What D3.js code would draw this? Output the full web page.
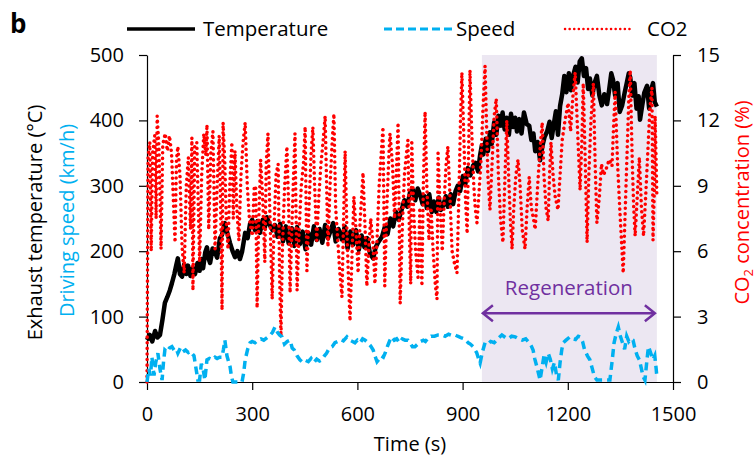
<!DOCTYPE html>
<html>
<head>
<meta charset="utf-8">
<script src="https://cdn.jsdelivr.net/npm/d3@7"></script>
<style>
  body { margin: 0; background: #fff; }
  svg text { font-family: "Open Sans", sans-serif; }
</style>
</head>
<body>
<div id="chart"></div>
<script>
// Exhaust temperature, driving speed and CO2 over a drive cycle

const width = 756;
const height = 459;
const margin = { top: 55, right: 83, bottom: 77, left: 147 };

const xTicks = [0, 300, 600, 900, 1200, 1500];
const leftTicks = [0, 100, 200, 300, 400, 500];
const rightTicks = [0, 3, 6, 9, 12, 15];
const regeneration = [955, 1454];

const tempTime = [0, 8, 15, 23, 30, 37, 44, 51, 58, 65, 71, 78, 84, 88, 94, 100, 106, 112, 117, 124, 130, 137, 144, 150, 155, 160, 166, 171, 176, 180, 187, 194, 200, 208, 214, 222, 228, 237, 244, 251, 258, 265, 271, 276, 280, 287, 294, 300, 308, 315, 322, 330, 336, 342, 350, 358, 365, 372, 380, 388, 396, 404, 413, 420, 428, 436, 444, 452, 460, 468, 476, 484, 492, 500, 508, 516, 524, 531, 538, 546, 556, 564, 572, 580, 588, 596, 604, 612, 620, 628, 636, 645, 652, 660, 670, 678, 686, 694, 702, 710, 718, 727, 734, 742, 750, 758, 765, 772, 779, 786, 792, 798, 805, 812, 818, 825, 832, 838, 845, 852, 858, 866, 873, 880, 886, 893, 901, 908, 915, 922, 930, 937, 944, 950, 955, 959, 966, 972, 978, 983, 990, 996, 1002, 1008, 1014, 1020, 1026, 1032, 1038, 1044, 1050, 1055, 1062, 1068, 1075, 1083, 1090, 1096, 1102, 1107, 1114, 1121, 1128, 1134, 1141, 1148, 1154, 1160, 1166, 1172, 1178, 1184, 1190, 1196, 1203, 1209, 1215, 1222, 1228, 1234, 1240, 1246, 1252, 1258, 1263, 1270, 1276, 1283, 1290, 1297, 1304, 1312, 1318, 1324, 1329, 1335, 1342, 1348, 1355, 1362, 1368, 1374, 1378, 1384, 1390, 1396, 1402, 1406, 1412, 1418, 1426, 1432, 1438, 1443, 1448, 1454];
const tempValues = [64, 72, 62, 78, 68, 72, 95, 121, 130, 140, 151, 165, 180, 189, 165, 161, 180, 165, 178, 162, 174, 165, 182, 170, 188, 174, 198, 206, 188, 182, 204, 198, 190, 220, 225, 243, 230, 212, 200, 191, 200, 188, 199, 215, 228, 220, 242, 248, 232, 246, 228, 248, 236, 252, 240, 232, 240, 222, 242, 215, 238, 212, 235, 208, 237, 211, 230, 203, 228, 210, 238, 217, 234, 213, 240, 220, 232, 243, 215, 234, 218, 238, 204, 230, 210, 232, 202, 224, 206, 220, 196, 189, 206, 214, 222, 237, 226, 250, 238, 260, 248, 265, 278, 268, 290, 294, 278, 296, 286, 272, 284, 266, 287, 260, 276, 260, 282, 263, 270, 284, 268, 287, 272, 292, 300, 292, 315, 303, 327, 316, 331, 335, 322, 347, 362, 348, 372, 353, 382, 364, 397, 378, 407, 392, 412, 386, 404, 378, 410, 390, 404, 383, 402, 380, 412, 394, 392, 370, 380, 353, 367, 339, 362, 375, 383, 398, 373, 394, 414, 378, 422, 440, 468, 443, 472, 446, 468, 482, 458, 490, 495, 468, 480, 448, 464, 438, 457, 468, 438, 423, 440, 425, 447, 472, 462, 438, 457, 413, 423, 442, 457, 472, 466, 438, 457, 418, 437, 401, 422, 442, 453, 418, 447, 457, 428, 421];

const speedTime = [0, 5, 10, 14, 20, 25, 31, 37, 43, 47, 51, 58, 64, 71, 78, 84, 88, 95, 102, 110, 118, 124, 128, 134, 140, 145, 150, 155, 160, 165, 171, 178, 186, 194, 200, 207, 214, 218, 222, 228, 237, 241, 245, 258, 271, 276, 280, 287, 294, 300, 308, 317, 325, 333, 345, 352, 358, 365, 372, 378, 385, 392, 400, 408, 414, 420, 428, 436, 444, 452, 460, 468, 476, 484, 492, 499, 506, 512, 520, 528, 536, 544, 552, 560, 570, 578, 586, 593, 600, 608, 615, 622, 630, 638, 645, 650, 656, 662, 668, 674, 679, 686, 692, 698, 705, 712, 720, 728, 736, 744, 750, 757, 764, 772, 780, 788, 794, 801, 810, 820, 830, 841, 850, 860, 870, 878, 886, 895, 905, 916, 922, 930, 940, 946, 950, 956, 964, 972, 980, 990, 1000, 1012, 1022, 1030, 1040, 1050, 1060, 1070, 1080, 1090, 1096, 1101, 1106, 1112, 1116, 1121, 1126, 1132, 1138, 1144, 1150, 1156, 1162, 1168, 1173, 1178, 1183, 1187, 1195, 1206, 1214, 1222, 1230, 1235, 1242, 1248, 1256, 1263, 1270, 1276, 1283, 1300, 1320, 1326, 1332, 1338, 1344, 1350, 1356, 1362, 1368, 1374, 1380, 1386, 1392, 1398, 1404, 1410, 1415, 1420, 1426, 1430, 1436, 1443, 1448, 1452, 1454];
const speedValues = [0, 20, 10, 38, 10, 30, 44, 20, 3, 30, 49, 46, 52, 54, 48, 50, 44, 52, 46, 49, 45, 47, 44, 40, 20, 3, 3, 28, 20, 3, 34, 36, 34, 38, 36, 38, 38, 50, 64, 40, 23, 8, 0, 0, 0, 15, 34, 50, 60, 62, 60, 64, 66, 64, 69, 72, 76, 84, 76, 72, 69, 58, 62, 64, 52, 49, 40, 34, 30, 33, 31, 36, 30, 35, 32, 34, 40, 44, 52, 54, 60, 62, 65, 63, 69, 64, 62, 60, 64, 60, 66, 64, 60, 55, 49, 40, 31, 35, 40, 38, 44, 55, 63, 69, 64, 66, 60, 66, 64, 64, 60, 54, 54, 58, 62, 64, 62, 67, 70, 70, 72, 72, 70, 73, 71, 72, 70, 68, 66, 60, 58, 54, 45, 35, 29, 45, 60, 58, 62, 60, 66, 72, 68, 66, 70, 69, 66, 64, 66, 60, 55, 49, 35, 23, 14, 3, 20, 40, 30, 44, 35, 20, 30, 10, 3, 30, 50, 60, 64, 69, 66, 65, 70, 69, 62, 49, 40, 34, 20, 8, 3, 3, 3, 30, 60, 74, 84, 70, 60, 50, 70, 62, 66, 64, 50, 40, 34, 20, 8, 3, 35, 54, 45, 34, 40, 20, 8];

const co2Time = [0, 3, 8, 12, 16, 22, 26, 29, 34, 40, 45, 52, 58, 64, 70, 76, 80, 84, 88, 94, 100, 106, 112, 118, 124, 128, 131, 136, 142, 150, 156, 162, 168, 171, 176, 182, 188, 194, 200, 206, 210, 214, 217, 222, 226, 231, 236, 242, 246, 251, 256, 262, 268, 274, 280, 286, 292, 300, 306, 310, 314, 318, 324, 330, 336, 340, 345, 350, 357, 362, 368, 374, 378, 382, 386, 392, 399, 404, 408, 414, 418, 422, 428, 434, 440, 446, 451, 456, 462, 468, 473, 478, 484, 490, 496, 502, 508, 516, 522, 528, 533, 538, 544, 550, 556, 562, 565, 570, 575, 579, 584, 590, 596, 602, 608, 612, 616, 622, 627, 632, 638, 644, 650, 656, 662, 668, 673, 678, 684, 690, 693, 700, 706, 712, 716, 722, 728, 734, 740, 744, 748, 752, 755, 760, 766, 773, 778, 784, 788, 793, 798, 804, 810, 816, 822, 827, 830, 836, 842, 848, 853, 858, 864, 870, 876, 884, 890, 894, 898, 904, 908, 913, 917, 921, 926, 932, 936, 941, 946, 952, 958, 964, 968, 972, 978, 984, 990, 996, 1002, 1008, 1015, 1020, 1026, 1030, 1036, 1041, 1046, 1052, 1058, 1064, 1070, 1078, 1084, 1090, 1096, 1102, 1107, 1114, 1120, 1127, 1132, 1138, 1144, 1148, 1152, 1158, 1164, 1172, 1178, 1184, 1192, 1201, 1208, 1214, 1221, 1228, 1235, 1240, 1244, 1250, 1255, 1260, 1266, 1273, 1278, 1283, 1290, 1296, 1302, 1310, 1318, 1326, 1330, 1335, 1342, 1348, 1353, 1358, 1364, 1370, 1374, 1378, 1384, 1388, 1392, 1398, 1404, 1410, 1416, 1422, 1428, 1434, 1440, 1443, 1447, 1449, 1452, 1454];
const co2Values = [0, 10.3, 11.0, 6.0, 10.5, 11.3, 7.5, 12.2, 10.8, 6.1, 10.9, 11.4, 10.6, 11.3, 10.5, 8.0, 6.4, 10.2, 10.8, 9.5, 6.2, 5.0, 9.0, 10.3, 7.0, 11.2, 4.2, 10.8, 11.0, 5.5, 9.5, 11.4, 10.4, 11.8, 7.0, 10.5, 11.5, 6.1, 9.0, 11.3, 8.0, 3.3, 11.9, 10.0, 7.5, 6.1, 9.0, 11.0, 7.5, 10.6, 8.0, 6.5, 9.5, 11.0, 11.9, 9.0, 7.5, 6.7, 9.0, 8.9, 3.4, 7.0, 10.2, 8.4, 5.5, 10.0, 11.4, 8.0, 3.8, 7.0, 9.5, 10.0, 5.0, 2.1, 6.0, 8.8, 10.8, 8.0, 4.1, 7.5, 9.5, 11.4, 4.2, 7.0, 9.0, 10.0, 11.7, 5.1, 8.0, 10.5, 11.7, 9.0, 6.5, 8.5, 10.0, 11.0, 12.2, 6.2, 9.0, 11.0, 12.3, 8.0, 6.5, 5.0, 3.9, 8.5, 10.6, 7.0, 4.5, 2.8, 5.5, 8.5, 7.0, 5.0, 7.5, 8.5, 9.6, 7.0, 4.4, 6.0, 7.5, 6.5, 4.5, 6.5, 9.0, 10.5, 11.7, 4.4, 8.0, 10.5, 11.4, 10.0, 7.5, 10.0, 11.9, 3.6, 7.0, 9.5, 10.5, 11.1, 7.0, 4.5, 11.1, 8.0, 6.0, 4.8, 8.0, 4.4, 9.0, 12.4, 9.0, 6.5, 8.0, 6.0, 4.5, 3.8, 10.5, 8.0, 6.0, 8.5, 10.0, 10.8, 8.5, 6.0, 5.5, 5.0, 9.0, 12.0, 14.2, 11.0, 8.5, 6.8, 10.5, 14.3, 11.5, 9.0, 8.0, 7.3, 8.5, 10.0, 12.5, 14.5, 12.0, 9.5, 7.9, 10.0, 12.2, 13.0, 9.5, 7.5, 6.4, 9.0, 12.0, 10.0, 7.5, 6.1, 8.0, 9.5, 10.2, 9.0, 7.0, 6.1, 8.0, 9.4, 8.0, 7.5, 7.0, 9.0, 10.5, 11.9, 9.5, 8.0, 7.4, 9.5, 11.0, 9.5, 8.5, 7.9, 9.5, 11.1, 12.0, 12.8, 11.5, 13.0, 14.2, 11.5, 8.8, 11.0, 13.7, 10.0, 6.4, 9.5, 12.0, 13.7, 10.0, 7.3, 8.5, 10.0, 9.5, 9.8, 10.2, 9.9, 11.5, 13.3, 10.0, 8.0, 6.5, 5.0, 8.0, 11.0, 13.0, 14.3, 10.0, 8.0, 6.7, 8.5, 10.3, 8.0, 6.7, 8.5, 10.5, 12.5, 13.5, 6.5, 9.0, 12.2, 10.0, 8.5];

const legendItems = ["Temperature", "Speed", "CO2"];

const svg = d3.select("#chart")
    .append("svg")
    .attr("width", width)
    .attr("height", height);

const x = d3.scaleLinear().domain([0, 1500]).range([margin.left, width - margin.right]);
const yLeft = d3.scaleLinear().domain([0, 500]).range([height - margin.bottom, margin.top]);
const yRight = d3.scaleLinear().domain([0, 15]).range([height - margin.bottom, margin.top]);

// regeneration band
svg.append("rect")
    .attr("x", x(regeneration[0]))
    .attr("y", yLeft(500))
    .attr("width", x(regeneration[1]) - x(regeneration[0]))
    .attr("height", yLeft(0) - yLeft(500))
    .attr("fill", "#ECE7F2");

// axes
const xAxis = svg.append("g")
    .attr("transform", `translate(0,${yLeft(0)})`)
    .call(d3.axisBottom(x).tickValues(xTicks).tickFormat(d3.format("d"))
        .tickSize(8).tickSizeOuter(0).tickPadding(17));

const leftAxis = svg.append("g")
    .attr("transform", `translate(${x(0)},0)`)
    .call(d3.axisLeft(yLeft).tickValues(leftTicks).tickSize(8).tickSizeOuter(0).tickPadding(15));

const rightAxis = svg.append("g")
    .attr("transform", `translate(${x(1500)},0)`)
    .call(d3.axisRight(yRight).tickValues(rightTicks).tickSize(8).tickSizeOuter(0).tickPadding(16));

[xAxis, leftAxis, rightAxis].forEach(g => {
    g.select(".domain").attr("stroke", "#000").attr("stroke-width", 1.2);
    g.selectAll(".tick line").attr("stroke", "#000").attr("stroke-width", 1.2);
    g.selectAll(".tick text").style("font-size", "20px").attr("fill", "#000");
});

// series
const tempData = tempTime.map((t, i) => [t, tempValues[i]]);
const speedData = speedTime.map((t, i) => [t, speedValues[i]]);
const co2Data = co2Time.map((t, i) => [t, co2Values[i]]);

const leftLine = d3.line().x(d => x(d[0])).y(d => yLeft(d[1]));
const rightLine = d3.line().x(d => x(d[0])).y(d => yRight(d[1]));

svg.append("path")
    .datum(tempData)
    .attr("d", leftLine)
    .attr("fill", "none")
    .attr("stroke", "#000")
    .attr("stroke-width", 4.5)
    .attr("stroke-linejoin", "round");

svg.append("path")
    .datum(co2Data)
    .attr("d", rightLine)
    .attr("fill", "none")
    .attr("stroke", "#FF0000")
    .attr("stroke-width", 3.5)
    .attr("stroke-linecap", "round")
    .attr("stroke-dasharray", "0.1 5.5");

svg.append("path")
    .datum(speedData)
    .attr("d", leftLine)
    .attr("fill", "none")
    .attr("stroke", "#00B0F0")
    .attr("stroke-width", 3.5)
    .attr("stroke-dasharray", "8 5");

// regeneration arrow
const purple = "#7030A0";
const arrowY = yLeft(105);
const ax0 = x(regeneration[0]) + 1;
const ax1 = x(regeneration[1]) - 2;
svg.append("line")
    .attr("x1", ax0).attr("x2", ax1)
    .attr("y1", arrowY).attr("y2", arrowY)
    .attr("stroke", purple).attr("stroke-width", 2.5);
svg.append("path")
    .attr("d", `M${ax0 + 10},${arrowY - 8} L${ax0},${arrowY} L${ax0 + 10},${arrowY + 8}`
        + ` M${ax1 - 10},${arrowY - 8} L${ax1},${arrowY} L${ax1 - 10},${arrowY + 8}`)
    .attr("fill", "none")
    .attr("stroke", purple)
    .attr("stroke-width", 2.5);
svg.append("text")
    .attr("x", (ax0 + ax1) / 2)
    .attr("y", arrowY - 18)
    .attr("text-anchor", "middle")
    .style("font-size", "20.5px")
    .attr("fill", purple)
    .text("Regeneration");

// axis titles
svg.append("text")
    .attr("transform", `translate(42,${(yLeft(0) + yLeft(500)) / 2 + 4}) rotate(-90)`)
    .attr("text-anchor", "middle")
    .style("font-size", "20px")
    .attr("fill", "#000")
    .text("Exhaust temperature (°C)");

svg.append("text")
    .attr("transform", `translate(74,${(yLeft(0) + yLeft(500)) / 2 + 2}) rotate(-90)`)
    .attr("text-anchor", "middle")
    .style("font-size", "20px")
    .attr("fill", "#00B0F0")
    .text("Driving speed (km/h)");

const co2Title = svg.append("text")
    .attr("transform", `translate(749,${(yLeft(0) + yLeft(500)) / 2 - 16}) rotate(-90)`)
    .attr("text-anchor", "middle")
    .style("font-size", "20px")
    .attr("fill", "#FF0000");
co2Title.append("tspan").text("CO");
co2Title.append("tspan").attr("dy", 4).style("font-size", "13px").text("2");
co2Title.append("tspan").attr("dy", -4).text(" concentration (%)");

svg.append("text")
    .attr("x", x(750))
    .attr("y", 451)
    .attr("text-anchor", "middle")
    .style("font-size", "20px")
    .attr("fill", "#000")
    .text("Time (s)");

// panel letter
svg.append("text")
    .attr("x", 10)
    .attr("y", 33)
    .style("font-size", "26px")
    .style("font-weight", "bold")
    .attr("fill", "#000")
    .text("b");

// legend
const legendX = [127, 384, 565];
const legendStyles = [
    { stroke: "#000", width: 3.5, dash: null, cap: "butt" },
    { stroke: "#00B0F0", width: 3, dash: "8 4", cap: "butt" },
    { stroke: "#FF0000", width: 2.5, dash: "0.1 4.5", cap: "round" }
];
const legend = svg.selectAll(".legend")
    .data(legendItems)
    .enter()
    .append("g")
    .attr("class", "legend")
    .attr("transform", (d, i) => `translate(${legendX[i]},29)`);

legend.append("line")
    .attr("x1", 0).attr("x2", 68)
    .attr("stroke", (d, i) => legendStyles[i].stroke)
    .attr("stroke-width", (d, i) => legendStyles[i].width)
    .attr("stroke-dasharray", (d, i) => legendStyles[i].dash)
    .attr("stroke-linecap", (d, i) => legendStyles[i].cap);

legend.append("text")
    .attr("x", (d, i) => [76, 72, 82][i])
    .attr("y", 7)
    .style("font-size", "20.5px")
    .attr("fill", "#000")
    .text(d => d);
</script>
</body>
</html>
